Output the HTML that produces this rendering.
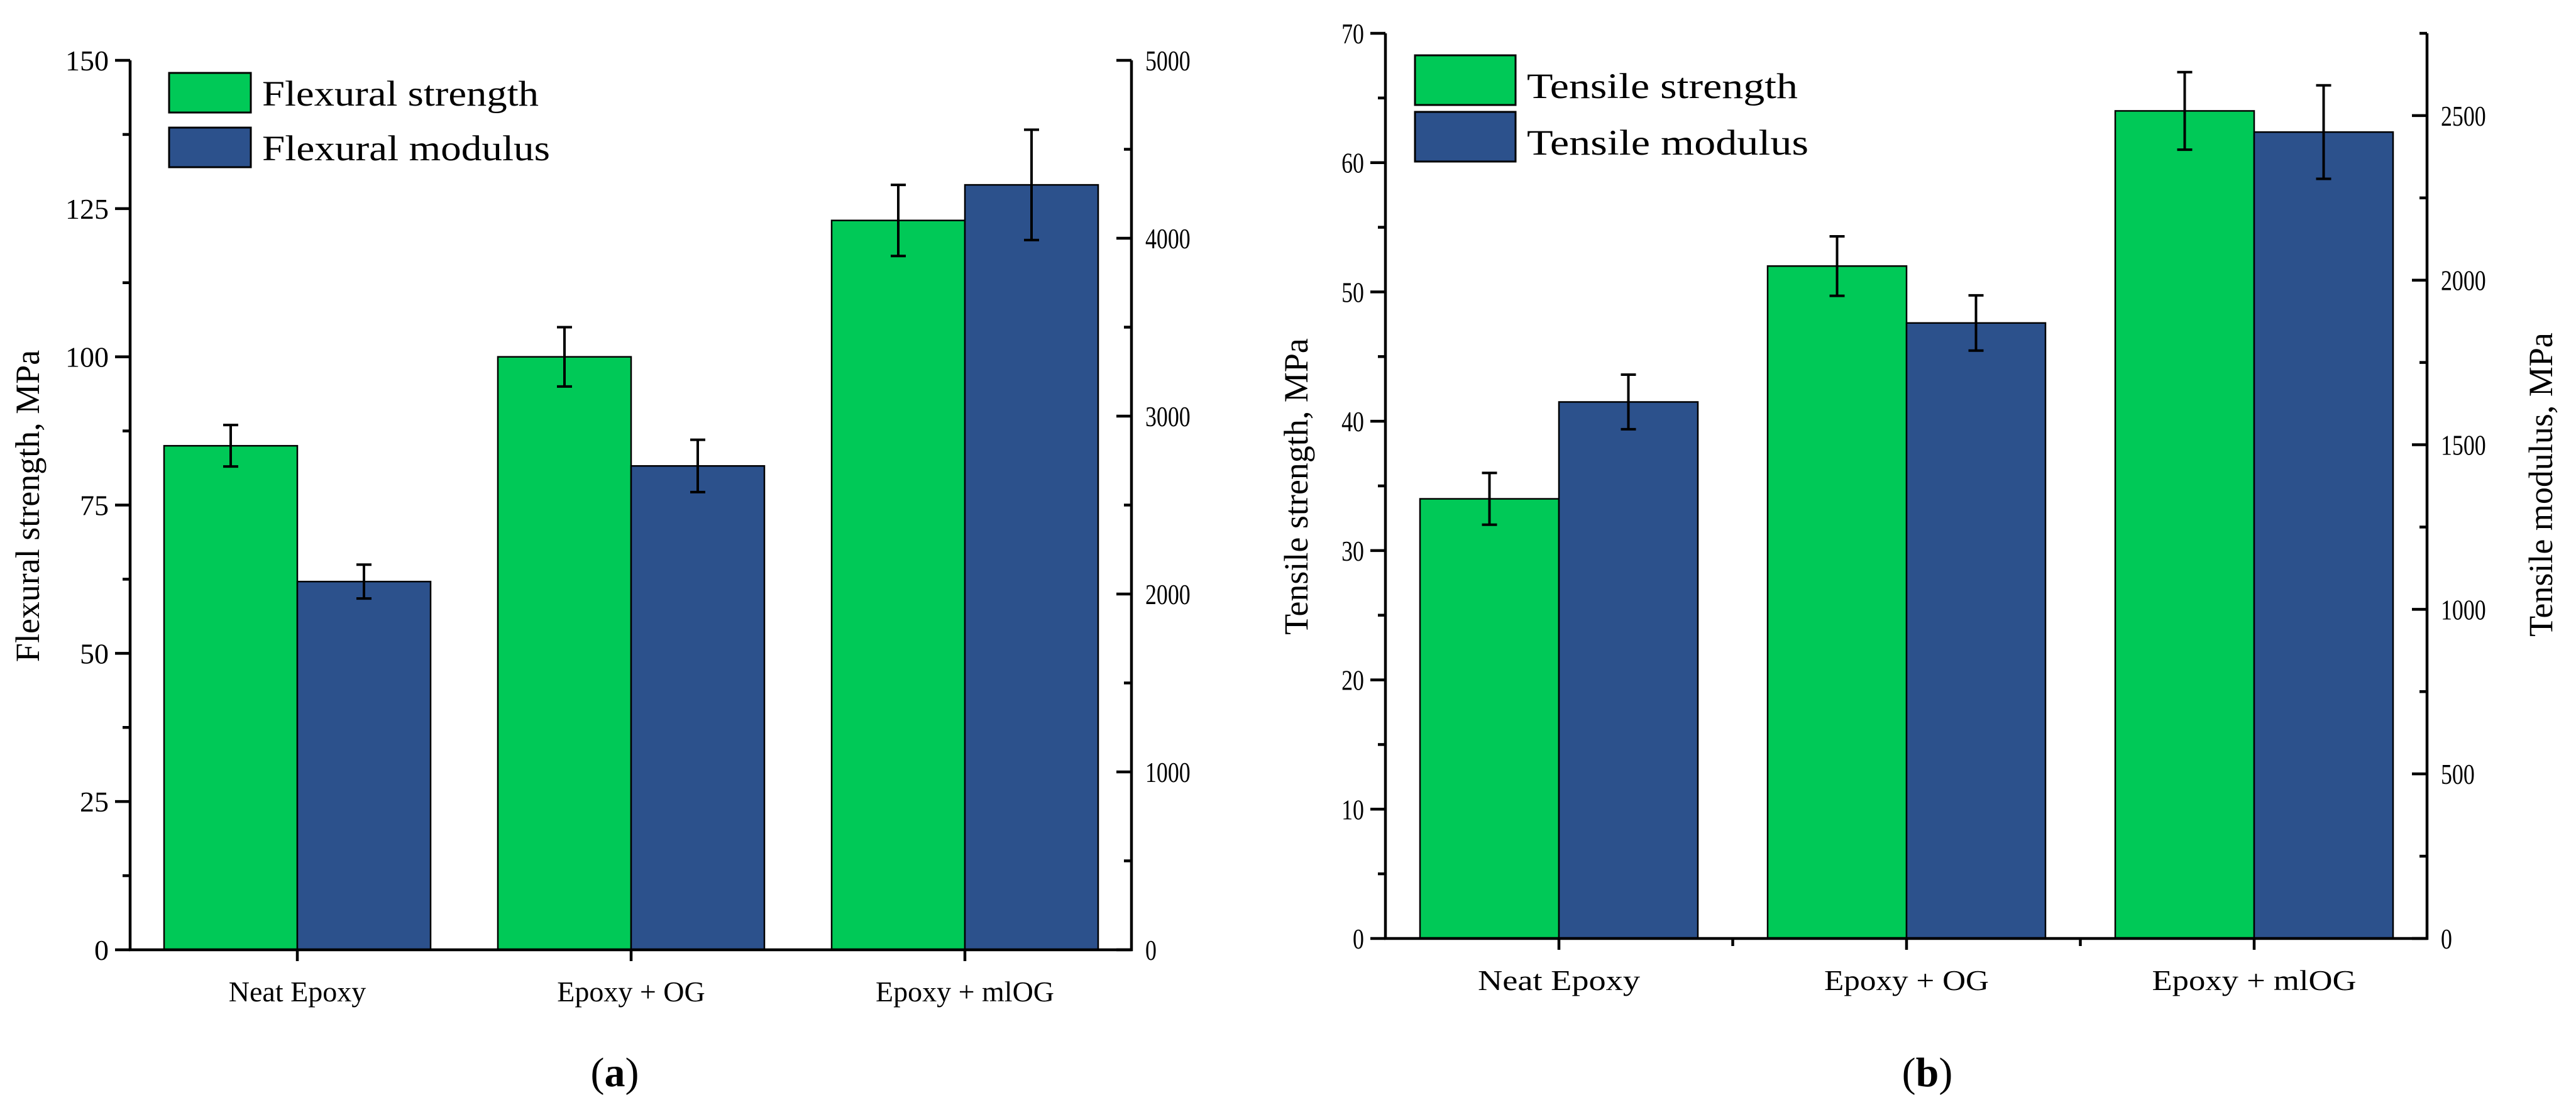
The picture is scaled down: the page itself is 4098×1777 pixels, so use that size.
<!DOCTYPE html>
<html><head><meta charset="utf-8"><style>
html,body{margin:0;padding:0;background:#fff;}
svg{display:block;}
text{font-family:"Liberation Serif",serif;fill:#000;}
</style></head><body>
<svg id="fig" width="4098" height="1777" viewBox="0 0 4098 1777" xmlns="http://www.w3.org/2000/svg"></svg>
<script>
const categories = ["Neat Epoxy", "Epoxy + OG", "Epoxy + mlOG"];
const flexStrength = [85, 100, 123];
const flexStrengthErr = [3.5, 5, 6];
const flexModulus = [2070, 2720, 4300];
const flexModulusErr = [95, 147, 310];
const tensStrength = [34, 52, 64];
const tensStrengthErr = [2, 2.3, 3];
const tensModulus = [1630, 1870, 2450];
const tensModulusErr = [83, 84, 142];
const aLeftTicks = [0, 25, 50, 75, 100, 125, 150];
const aRightTicks = [0, 1000, 2000, 3000, 4000, 5000];
const bLeftTicks = [0, 10, 20, 30, 40, 50, 60, 70];
const bRightTicks = [0, 500, 1000, 1500, 2000, 2500];

const NS = "http://www.w3.org/2000/svg";
const svg = document.getElementById("fig");
function el(tag, attrs, parent, txt) {
  const e = document.createElementNS(NS, tag);
  for (const k in attrs) e.setAttribute(k, attrs[k]);
  if (txt !== undefined) e.textContent = txt;
  (parent || svg).appendChild(e);
  return e;
}
const GREEN = "#00c957", BLUE = "#2c518c";

function drawChart(cfg) {
  const g = el("g", {});
  
  
  const yL = v => cfg.y0 - v / cfg.lMax * (cfg.y0 - cfg.yTop);
  const yR = v => cfg.y0 - v / cfg.rMax * (cfg.y0 - cfg.yTop);
  const cx = i => cfg.c0 + i * cfg.step;
  const bw = cfg.bw;
  categories.forEach((c, i) => {
    const s = cfg.s[i], m = cfg.m[i];
    const r1 = el("rect", {x: cx(i) - bw, y: yL(s), width: bw, height: cfg.y0 - yL(s), fill: GREEN, stroke: "#000", "stroke-width": 2.5}, g);
    
    
    const r2 = el("rect", {x: cx(i), y: yR(m), width: bw, height: cfg.y0 - yR(m), fill: BLUE, stroke: "#000", "stroke-width": 2.5}, g);
    
    
    const errs = [[cx(i) - bw / 2, yL(s + cfg.se[i]), yL(s - cfg.se[i])], [cx(i) + bw / 2, yR(m + cfg.me[i]), yR(m - cfg.me[i])]];
    errs.forEach((e, k) => {
      const eg = el("g", {stroke: "#000", "stroke-width": 4}, g);
      
      
      el("line", {x1: e[0], x2: e[0], y1: e[1], y2: e[2]}, eg);
      el("line", {x1: e[0] - 12, x2: e[0] + 12, y1: e[1], y2: e[1]}, eg);
      el("line", {x1: e[0] - 12, x2: e[0] + 12, y1: e[2], y2: e[2]}, eg);
    });
    const xl = el("text", {x: cx(i), y: cfg.y0 + 82, "text-anchor": "middle", "font-size": 46}, g, c);
    if (cfg.narrow) { xl.setAttribute("textLength", cfg.xlW[i]); xl.setAttribute("lengthAdjust", "spacingAndGlyphs"); }
    
    
  });
  const ax = el("g", {stroke: "#000", "stroke-width": 4.5, fill: "none"}, g);
  
  
  el("line", {x1: cfg.xL, x2: cfg.xL, y1: cfg.yTop, y2: cfg.y0 + 2}, ax);
  el("line", {x1: cfg.xR, x2: cfg.xR, y1: cfg.yTop, y2: cfg.y0 + 2}, ax);
  el("line", {x1: cfg.xL - 2, x2: cfg.xR + 2, y1: cfg.y0, y2: cfg.y0}, ax);
  categories.forEach((c, i) => { el("line", {x1: cx(i), x2: cx(i), y1: cfg.y0, y2: cfg.y0 + 18}, ax); });
  if (cfg.narrow) {
    for (let i = 0; i < categories.length - 1; i++) {
      const m = cx(i) + cfg.step / 2;
      el("line", {x1: m, x2: m, y1: cfg.y0, y2: cfg.y0 + 12}, ax);
    }
  }
  const lStep = cfg.lTicks[1] - cfg.lTicks[0];
  cfg.lTicks.forEach((t, k) => {
    el("line", {x1: cfg.xL - 24, x2: cfg.xL, y1: yL(t), y2: yL(t)}, ax);
    if (k < cfg.lTicks.length - 1) el("line", {x1: cfg.xL - 12, x2: cfg.xL, y1: yL(t + lStep / 2), y2: yL(t + lStep / 2)}, ax);
    const tl = el("text", {x: cfg.xL - 34, y: yL(t) + 16, "text-anchor": "end", "font-size": 46}, g, String(t));
    if (cfg.narrow) tl.setAttribute("transform", `translate(${cfg.xL - 34},0) scale(0.78,1) translate(${-(cfg.xL - 34)},0)`);
    
    
  });
  const rStep = cfg.rTicks[1] - cfg.rTicks[0];
  const rAll = [];
  for (let v = 0; v <= cfg.rMax + 1e-6; v += rStep / 2) rAll.push(v);
  rAll.forEach(v => {
    const major = Math.abs(v / rStep - Math.round(v / rStep)) < 1e-6;
    el("line", {x1: cfg.xR - (major ? 24 : 12), x2: cfg.xR, y1: yR(v), y2: yR(v)}, ax);
  });
  cfg.rTicks.forEach(t => {
    const tl = el("text", {x: cfg.xR + 22, y: yR(t) + 16, "text-anchor": "start", "font-size": 46}, g, String(t));
    tl.setAttribute("transform", `translate(${cfg.xR + 22},0) scale(0.78,1) translate(${-(cfg.xR + 22)},0)`);
    
    
  });
  cfg.legend.forEach((lab, k) => {
    const ly = cfg.legY[k];
    const lg = el("g", {}, g);
    
    
    el("rect", {x: cfg.legX, y: ly, width: cfg.legW, height: cfg.legH, fill: k ? BLUE : GREEN, stroke: "#000", "stroke-width": 3}, lg);
    el("text", {x: cfg.legX + cfg.legW + 18, y: ly + cfg.legH - 11, "font-size": 57, textLength: cfg.legTL[k], lengthAdjust: "spacingAndGlyphs"}, lg, lab);
  });
  const t1 = el("text", {x: 0, y: 0, "text-anchor": "middle", "font-size": 54, transform: `translate(${cfg.ttlL[0]},${cfg.ttlL[1]}) rotate(-90)`}, g, cfg.lTitle);
  
  
  if (cfg.rTitle) {
    const t2 = el("text", {x: 0, y: 0, "text-anchor": "middle", "font-size": 54, transform: `translate(${cfg.ttlR[0]},${cfg.ttlR[1]}) rotate(-90)`}, g, cfg.rTitle);
    
    
  }
  const cap = el("text", {x: cfg.capX, y: 1728, "text-anchor": "middle", "font-size": 66}, g);
  
  
  el("tspan", {}, cap, "(");
  el("tspan", {"font-weight": "bold"}, cap, cfg.capL);
  el("tspan", {}, cap, ")");
}

drawChart({
  name: "chart-a-flexural", xL: 207, xR: 1800, y0: 1511, yTop: 96, lMax: 150, rMax: 5000,
  c0: 473, step: 531, bw: 212,
  s: flexStrength, se: flexStrengthErr, m: flexModulus, me: flexModulusErr,
  lTicks: aLeftTicks, rTicks: aRightTicks, narrow: false,
  legend: ["Flexural strength", "Flexural modulus"], legX: 269, legW: 130, legH: 63, legY: [116, 203], legTL: [440, 458],
  lTitle: "Flexural strength, MPa", ttlL: [62, 805], rTitle: null, capX: 978, capL: "a"
});
drawChart({
  name: "chart-b-tensile", xL: 2204, xR: 3861, y0: 1493, yTop: 53, lMax: 70, rMax: 2750,
  c0: 2480, step: 553, bw: 221,
  s: tensStrength, se: tensStrengthErr, m: tensModulus, me: tensModulusErr,
  lTicks: bLeftTicks, rTicks: bRightTicks, narrow: true, xlW: [258, 262, 325],
  legend: ["Tensile strength", "Tensile modulus"], legX: 2251, legW: 160, legH: 79, legY: [88, 178], legTL: [431, 448],
  lTitle: "Tensile strength, MPa", ttlL: [2080, 774], rTitle: "Tensile modulus, MPa", ttlR: [4060, 771], capX: 3066, capL: "b"
});
</script>
</body></html>
